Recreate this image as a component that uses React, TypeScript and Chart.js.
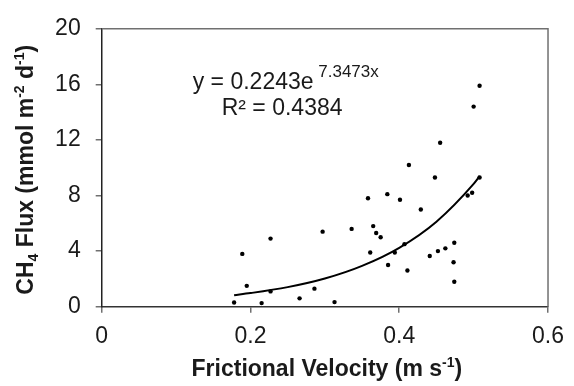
import React, { useEffect, useRef } from "react";
import { Chart, registerables } from "chart.js";

Chart.register(...registerables);

// Frictional velocity (m s-1)
const velocity = [
  0.178, 0.189, 0.195, 0.227, 0.215, 0.227, 0.266, 0.286, 0.297, 0.313,
  0.336, 0.358, 0.365, 0.369, 0.375, 0.361, 0.384, 0.385, 0.394, 0.401,
  0.407, 0.411, 0.413, 0.429, 0.441, 0.448, 0.452, 0.455, 0.462, 0.474,
  0.473, 0.474, 0.492, 0.498, 0.508, 0.508, 0.500,
];
// CH4 flux (mmol m-2 d-1)
const flux = [
  0.3, 3.8, 1.5, 4.9, 0.26, 1.1, 0.6, 1.3, 5.4, 0.33,
  5.6, 7.8, 5.8, 5.3, 5.0, 3.9, 8.1, 3.0, 3.9, 7.7,
  4.5, 2.6, 10.2, 7.0, 3.65, 9.3, 4.0, 11.8, 4.2, 4.6,
  3.2, 1.8, 8.0, 8.2, 9.3, 15.9, 14.4,
];
// Trend line
const trendX = [0.178, 0.2, 0.25, 0.3, 0.35, 0.4, 0.45, 0.5, 0.508];
const trendY = [0.83, 0.98, 1.41, 2.03, 2.94, 4.24, 6.12, 8.84, 9.39];

const xTicks = ["0", "0.2", "0.4", "0.6"];
const yTicks = ["0", "4", "8", "12", "16", "20"];

const FONT = "'Liberation Sans', Arial, Helvetica, sans-serif";
const TXT = "#1a1a1a";

type Run = { text: string; size: number; dy: number; bold?: boolean };

function drawRuns(ctx: CanvasRenderingContext2D, runs: Run[], x: number, y: number, align: "left" | "center") {
  let total = 0;
  const widths = runs.map((r) => {
    ctx.font = `${r.bold ? "bold " : ""}${r.size}px ${FONT}`;
    const w = ctx.measureText(r.text).width;
    total += w;
    return w;
  });
  let cx = align === "center" ? x - total / 2 : x;
  ctx.textAlign = "left";
  ctx.textBaseline = "alphabetic";
  runs.forEach((r, i) => {
    ctx.font = `${r.bold ? "bold " : ""}${r.size}px ${FONT}`;
    ctx.fillText(r.text, cx, y + r.dy);
    cx += widths[i];
  });
}

const decorPlugin = {
  id: "decor",
  afterDraw(chart: any) {
    const ctx: CanvasRenderingContext2D = chart.ctx;
    const { left, right, top, bottom } = chart.chartArea;
    ctx.save();
    // top & right frame
    ctx.strokeStyle = "#707070";
    ctx.lineWidth = 1.5;
    ctx.beginPath();
    ctx.moveTo(left, top);
    ctx.lineTo(right, top);
    ctx.lineTo(right, bottom);
    ctx.stroke();

    ctx.fillStyle = TXT;
    // equation
    drawRuns(ctx, [
      { text: "y = 0.2243e", size: 23, dy: 0 },
      { text: " 7.3473x", size: 17, dy: -12 },
    ], left + 91, top + 60, "left");
    drawRuns(ctx, [{ text: "R² = 0.4384", size: 23, dy: 0 }], left + 120, top + 86, "left");

    // x title
    drawRuns(ctx, [
      { text: "Frictional Velocity (m s", size: 23, dy: 0, bold: true },
      { text: "-1", size: 14, dy: -9, bold: true },
      { text: ")", size: 23, dy: 0, bold: true },
    ], (left + right) / 2 + 2, 376, "center");

    // y title
    ctx.translate(33, (top + bottom) / 2 + 2);
    ctx.rotate(-Math.PI / 2);
    drawRuns(ctx, [
      { text: "CH", size: 23, dy: 0, bold: true },
      { text: "4", size: 14, dy: 5, bold: true },
      { text: " Flux (mmol m", size: 23, dy: 0, bold: true },
      { text: "-2", size: 14, dy: -9, bold: true },
      { text: " d", size: 23, dy: 0, bold: true },
      { text: "-1", size: 14, dy: -9, bold: true },
      { text: ")", size: 23, dy: 0, bold: true },
    ], 0, 0, "center");
    ctx.restore();
  },
};

export default function App() {
  const ref = useRef<HTMLCanvasElement | null>(null);
  useEffect(() => {
    if (!ref.current) return;
    const points = velocity.map((v, i) => ({ x: v, y: flux[i] }));
    const trend = trendX.map((v, i) => ({ x: v, y: trendY[i] }));
    const chart = new Chart(ref.current, {
      type: "scatter",
      data: {
        datasets: [
          {
            data: trend,
            showLine: true,
            borderColor: "#000",
            borderWidth: 2,
            pointRadius: 0,
            cubicInterpolationMode: "monotone",
            fill: false,
          } as any,
          {
            data: points,
            showLine: false,
            pointRadius: 2.2,
            pointBackgroundColor: "#000",
            pointBorderColor: "#000",
            pointBorderWidth: 0,
          },
        ],
      },
      options: {
        animation: false,
        responsive: false,
        maintainAspectRatio: false,
        layout: { padding: { top: 21.7, right: 19.3, left: 0, bottom: 0 } },
        plugins: { legend: { display: false }, tooltip: { enabled: false } },
        scales: {
          x: {
            type: "linear",
            min: 0,
            max: 0.6,
            ticks: {
              stepSize: 0.2,
              padding: 10,
              color: TXT,
              font: { family: FONT, size: 23 },
              callback: (v: any) => {
                const i = Math.round(Number(v) / 0.2);
                return xTicks[i] ?? "";
              },
            },
            grid: { display: true, drawOnChartArea: false, drawTicks: true, tickLength: 6, color: "#707070", lineWidth: 1.5 },
            border: { display: true, color: "#333", width: 1.5 },
            afterFit: (s: any) => { s.height = 79.3; },
          },
          y: {
            min: 0,
            max: 20,
            ticks: {
              stepSize: 4,
              padding: 15,
              color: TXT,
              font: { family: FONT, size: 23 },
              callback: (v: any) => {
                const i = Math.round(Number(v) / 4);
                return yTicks[i] ?? "";
              },
            },
            grid: { display: true, drawOnChartArea: false, drawTicks: true, tickLength: 6, color: "#707070", lineWidth: 1.5 },
            border: { display: true, color: "#222", width: 1.5 },
            afterFit: (s: any) => { s.width = 101.7; },
          },
        },
      },
      plugins: [decorPlugin],
    });
    return () => chart.destroy();
  }, []);
  return (
    <div style={{ position: "fixed", left: 0, top: 0, width: 574, height: 386, background: "#fff" }}>
      <canvas ref={ref} width={574} height={386} style={{ display: "block" }} />
    </div>
  );
}
